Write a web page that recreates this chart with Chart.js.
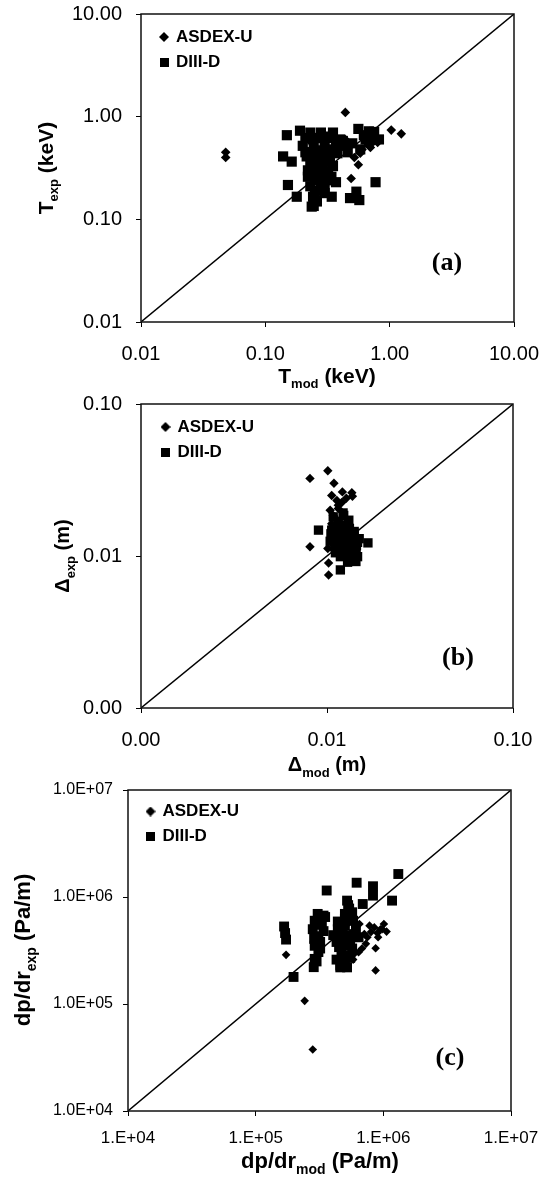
<!DOCTYPE html>
<html><head><meta charset="utf-8">
<script src="https://cdn.jsdelivr.net/npm/chart.js@4.4.0/dist/chart.umd.min.js"></script>
<style>
html,body{margin:0;padding:0;background:#fff;width:542px;height:1186px;overflow:hidden}
canvas{position:absolute;left:0}
</style></head><body>
<canvas id="ca" width="542" height="390" style="top:0px"></canvas>
<canvas id="cb" width="542" height="390" style="top:390px"></canvas>
<canvas id="cc" width="542" height="411" style="top:775px"></canvas>
<script>
// ---------- DATA ----------
const seriesNames = ['ASDEX-U', 'DIII-D'];

// Panel (a): T_mod vs T_exp (keV)
const aTicks = [0.01, 0.1, 1, 10];
const aTickLabels = ['0.01', '0.10', '1.00', '10.00'];
const aAsdexX = [0.048, 0.048, 0.44, 1.03, 1.24, 0.80, 0.49, 0.56, 0.44, 0.47, 0.60, 0.66, 0.52, 0.75, 0.38, 0.35, 0.70, 0.58];
const aAsdexY = [0.45, 0.40, 1.10, 0.74, 0.68, 0.56, 0.25, 0.34, 0.60, 0.52, 0.48, 0.62, 0.40, 0.58, 0.55, 0.62, 0.50, 0.44];
const aDiiidX = [0.149, 0.19, 0.139, 0.163, 0.152, 0.179, 0.236, 0.242, 0.342, 0.48, 0.54, 0.57, 0.77, 0.37, 0.56, 0.68, 0.75, 0.82, 0.64, 0.23,
                 0.28, 0.35, 0.20, 0.245, 0.30, 0.37, 0.215, 0.27, 0.33, 0.23, 0.29, 0.35, 0.22, 0.28, 0.34, 0.23, 0.29, 0.25, 0.30, 0.245,
                 0.32, 0.40, 0.43, 0.46, 0.58, 0.68, 0.26, 0.31, 0.21, 0.26,
                 0.21, 0.24, 0.27, 0.31, 0.34, 0.22, 0.25, 0.28, 0.32, 0.36, 0.24, 0.27, 0.30, 0.33, 0.26, 0.29, 0.32, 0.25, 0.28, 0.31,
                 0.27, 0.30, 0.22, 0.26, 0.38, 0.42, 0.50, 0.62, 0.72];
const aDiiidY = [0.66, 0.73, 0.41, 0.365, 0.216, 0.166, 0.133, 0.166, 0.166, 0.161, 0.186, 0.154, 0.23, 0.23, 0.76, 0.72, 0.71, 0.60, 0.60, 0.70,
                 0.70, 0.70, 0.52, 0.52, 0.52, 0.52, 0.41, 0.41, 0.41, 0.33, 0.33, 0.33, 0.26, 0.26, 0.26, 0.21, 0.21, 0.17, 0.18, 0.135,
                 0.48, 0.60, 0.52, 0.45, 0.48, 0.56, 0.62, 0.28, 0.45, 0.15,
                 0.62, 0.60, 0.62, 0.64, 0.62, 0.45, 0.46, 0.47, 0.44, 0.46, 0.37, 0.36, 0.38, 0.37, 0.29, 0.30, 0.29, 0.24, 0.23, 0.24,
                 0.19, 0.20, 0.30, 0.15, 0.44, 0.58, 0.55, 0.66, 0.63];

// Panel (b): Delta_mod vs Delta_exp (m)
const bTicks = [0.001, 0.01, 0.1];
const bTickLabels = ['0.00', '0.01', '0.10'];
const bAsdexX = [0.0081, 0.0101, 0.0109, 0.0121, 0.0136, 0.0137, 0.0106, 0.0113, 0.0081, 0.0102, 0.0102, 0.0101, 0.0104, 0.0106, 0.0115, 0.0110, 0.0125,
                 0.0108, 0.0115, 0.0120, 0.0127, 0.0112];
const bAsdexY = [0.0324, 0.0364, 0.0301, 0.0264, 0.0261, 0.0247, 0.0250, 0.0232, 0.0115, 0.0090, 0.0075, 0.0112, 0.0200, 0.0163, 0.0216, 0.0130, 0.0120,
                 0.0185, 0.0205, 0.0225, 0.0240, 0.0175];
const bDiiidX = [0.0090, 0.0166, 0.0118, 0.0143, 0.0108, 0.0123, 0.0131, 0.0113, 0.0126, 0.0140, 0.0108, 0.0121, 0.0137, 0.0149, 0.0110, 0.0126,
                 0.0143, 0.0118, 0.0134, 0.0146, 0.0129, 0.0106, 0.0115, 0.0120, 0.0135,
                 0.0104, 0.0112, 0.0120, 0.0128, 0.0136, 0.0144, 0.0105, 0.0113, 0.0122, 0.0130, 0.0138, 0.0146, 0.0108, 0.0116, 0.0124, 0.0132,
                 0.0140, 0.0111, 0.0119, 0.0127, 0.0135, 0.0143, 0.0122, 0.0130];
const bDiiidY = [0.0148, 0.0122, 0.0081, 0.0092, 0.0181, 0.0185, 0.0172, 0.0155, 0.0148, 0.0141, 0.0134, 0.0127, 0.0124, 0.0130, 0.0115, 0.0109,
                 0.0107, 0.0099, 0.0099, 0.0099, 0.0091, 0.0148, 0.0168, 0.0160, 0.0115,
                 0.0125, 0.0120, 0.0118, 0.0121, 0.0119, 0.0117, 0.0140, 0.0138, 0.0136, 0.0133, 0.0131, 0.0123, 0.0155, 0.0150, 0.0145, 0.0152,
                 0.0145, 0.0105, 0.0104, 0.0102, 0.0105, 0.0110, 0.0192, 0.0165];

// Panel (c): dp/dr_mod vs dp/dr_exp (Pa/m)
const cTicks = [1e4, 1e5, 1e6, 1e7];
const cXTickLabels = ['1.E+04', '1.E+05', '1.E+06', '1.E+07'];
const cYTickLabels = ['1.0E+04', '1.0E+05', '1.0E+06', '1.0E+07'];
const cAsdexX = [2.8e5, 2.42e5, 1.73e5, 8.7e5, 8.7e5, 1.06e6, 1.01e6, 9.1e5, 7.8e5, 7.1e5, 7.3e5, 6.4e5, 5.2e5, 6.5e5, 9.5e5, 8.0e5, 5.8e5,
                 7.5e5, 8.5e5, 9.8e5, 6.8e5, 9.0e5, 6.0e5];
const cAsdexY = [3.76e4, 1.07e5, 2.88e5, 2.06e5, 3.32e5, 4.75e5, 5.6e5, 4.2e5, 5.4e5, 4.5e5, 3.65e5, 3.05e5, 2.38e5, 5.6e5, 5.0e5, 4.7e5, 2.6e5,
                 4.2e5, 5.2e5, 5.0e5, 3.3e5, 4.6e5, 3.0e5];
const cDiiidX = [1.31e6, 6.18e5, 3.6e5, 8.3e5, 8.3e5, 1.17e6, 5.2e5, 6.9e5, 1.67e5, 1.73e5, 1.98e5, 2.85e5, 2.9e5, 3.06e5, 3.4e5, 2.8e5,
                 2.87e5, 3.2e5, 4.05e5, 4.3e5, 4.6e5, 5.3e5, 5.0e5, 5.6e5, 5.0e5, 6.1e5, 5.5e5, 4.7e5, 6.4e5, 3.1e5, 1.70e5,
                 2.9e5, 3.2e5, 3.5e5, 2.95e5, 3.3e5, 2.9e5, 3.1e5, 3.4e5, 3.0e5, 3.2e5,
                 4.4e5, 4.8e5, 5.4e5, 5.9e5, 4.5e5, 5.1e5, 5.7e5, 4.3e5, 4.9e5, 5.5e5, 4.6e5, 5.2e5, 5.8e5, 4.4e5, 5.0e5, 5.4e5, 5.3e5, 5.7e5, 4.7e5];
const cDiiidY = [1.64e6, 1.36e6, 1.15e6, 1.26e6, 1.03e6, 9.25e5, 9.25e5, 8.6e5, 5.3e5, 4.0e5, 1.79e5, 2.21e5, 2.64e5, 6.95e5, 6.7e5, 5.0e5,
                 4.06e5, 3.8e5, 4.4e5, 3.8e5, 2.29e5, 2.84e5, 5.4e5, 6.7e5, 6.95e5, 5.0e5, 3.8e5, 3.06e5, 4.2e5, 3.06e5, 4.6e5,
                 6.0e5, 6.3e5, 6.5e5, 5.5e5, 5.8e5, 3.5e5, 4.3e5, 4.8e5, 2.5e5, 3.3e5,
                 5.0e5, 4.6e5, 4.4e5, 4.5e5, 3.4e5, 3.5e5, 3.3e5, 2.6e5, 2.5e5, 2.7e5, 2.2e5, 2.2e5, 6.0e5, 5.9e5, 6.3e5, 7.8e5, 8.4e5, 7.2e5, 4.0e5];

// ---------- RENDERING ----------
const SANS = '"Liberation Sans", Arial, Helvetica, sans-serif';
const SERIF = '"Liberation Serif", "Times New Roman", serif';
Chart.defaults.color = '#000';
Chart.defaults.font.family = SANS;

function pts(xs, ys) { return xs.map((x, i) => ({x: x, y: ys[i]})); }

function markerCanvas(kind, s) {
  const c = document.createElement('canvas');
  c.width = s; c.height = s;
  const g = c.getContext('2d');
  g.fillStyle = '#000';
  g.beginPath();
  if (kind === 'd') { g.moveTo(s / 2, 0); g.lineTo(s, s / 2); g.lineTo(s / 2, s); g.lineTo(0, s / 2); g.closePath(); }
  else { g.rect(0, 0, s, s); }
  g.fill();
  return c;
}
const legDiamond = markerCanvas('d', 10);
const legSquare = markerCanvas('s', 9);

function drawSubText(ctx, parts, cx, cy, size, rotate) {
  ctx.save();
  ctx.translate(cx, cy);
  if (rotate) ctx.rotate(-Math.PI / 2);
  const mainF = 'bold ' + size + 'px ' + SANS;
  const subSize = Math.round(size * 0.63);
  const subF = 'bold ' + subSize + 'px ' + SANS;
  const widths = parts.map(p => { ctx.font = p[1] ? subF : mainF; return ctx.measureText(p[0]).width; });
  const total = widths.reduce((a, b) => a + b, 0);
  let x = -total / 2;
  const capH = size * 0.716;
  ctx.fillStyle = '#000';
  ctx.textAlign = 'left';
  ctx.textBaseline = 'alphabetic';
  parts.forEach((p, i) => {
    ctx.font = p[1] ? subF : mainF;
    ctx.fillText(p[0], x, capH / 2 + (p[1] ? size * 0.28 : 0));
    x += widths[i];
  });
  ctx.restore();
}

const decorPlugin = {
  id: 'decor',
  afterLayout(chart, args, o) {
    const lg = chart.legend, a = chart.chartArea;
    if (lg) {
      const w = lg.width, h = lg.height;
      lg.left = a.left + o.legendDx; lg.right = lg.left + w;
      lg.top = a.top + o.legendDy; lg.bottom = lg.top + h;
    }
  },
  afterDraw(chart, args, o) {
    const ctx = chart.ctx, a = chart.chartArea;
    ctx.save();
    ctx.strokeStyle = '#111';
    ctx.lineWidth = 1.5;
    ctx.strokeRect(a.left, a.top, a.right - a.left, a.bottom - a.top);
    ctx.restore();
    drawSubText(ctx, o.xTitle, o.xTitlePos[0], o.xTitlePos[1], o.xTitleSize, false);
    drawSubText(ctx, o.yTitle, o.yTitlePos[0], o.yTitlePos[1], o.yTitleSize, true);
    ctx.save();
    ctx.font = 'bold ' + o.tagSize + 'px ' + SERIF;
    ctx.fillStyle = '#000';
    ctx.textAlign = 'center';
    ctx.textBaseline = 'middle';
    ctx.fillText(o.tag, o.tagPos[0], o.tagPos[1]);
    ctx.restore();
  }
};

function zeroPad(s) { s.paddingTop = 0; s.paddingBottom = 0; s.paddingLeft = 0; s.paddingRight = 0; }

function makePanel(id, p) {
  const axisBase = (ticks, labels, fontSize, pad) => ({
    type: 'logarithmic',
    min: ticks[0],
    max: ticks[ticks.length - 1],
    afterBuildTicks: (s) => { s.ticks = ticks.map(v => ({value: v})); },
    ticks: {
      autoSkip: false, maxRotation: 0, minRotation: 0, padding: pad,
      font: {size: fontSize, family: SANS},
      color: '#000',
      callback: (v, i) => labels[i]
    },
    grid: {display: true, drawOnChartArea: false, drawTicks: true, tickLength: 5, color: '#000', lineWidth: 1},
    border: {display: false}
  });
  const xs = axisBase(p.ticks, p.xLabels, p.xFont, p.xPad);
  xs.position = 'bottom';
  xs.afterFit = (s) => { s.height = p.xHeight; zeroPad(s); };
  const ys = axisBase(p.ticks, p.yLabels, p.yFont, p.yPad);
  ys.position = 'left';
  ys.afterFit = (s) => { s.width = p.yWidth; zeroPad(s); };

  return new Chart(document.getElementById(id), {
    type: 'scatter',
    data: {
      datasets: [
        {label: seriesNames[0], data: pts(p.asdexX, p.asdexY), pointStyle: 'rectRot', pointRadius: p.dR, pointHoverRadius: p.dR,
         backgroundColor: '#000', borderColor: '#000', borderWidth: 0},
        {label: seriesNames[1], data: pts(p.diiidX, p.diiidY), pointStyle: 'rect', pointRadius: p.sR, pointHoverRadius: p.sR,
         backgroundColor: '#000', borderColor: '#000', borderWidth: 0},
        {label: 'y = x', data: [{x: p.ticks[0], y: p.ticks[0]}, {x: p.ticks[p.ticks.length - 1], y: p.ticks[p.ticks.length - 1]}],
         showLine: true, pointRadius: 0, borderColor: '#000', borderWidth: 1.4, fill: false}
      ]
    },
    options: {
      responsive: false,
      animation: false,
      devicePixelRatio: 1,
      layout: {padding: {left: 0, top: p.padTop, right: p.padRight, bottom: 0}},
      scales: {x: xs, y: ys},
      plugins: {
        tooltip: {enabled: false},
        legend: {
          position: 'chartArea',
          align: 'start',
          labels: {
            usePointStyle: true, boxWidth: 7, boxHeight: 7, padding: 8, color: '#000',
            font: {size: 17, weight: 'bold', family: SANS},
            filter: (item) => item.datasetIndex < 2,
            generateLabels: (chart) => {
              const items = Chart.defaults.plugins.legend.labels.generateLabels(chart);
              return items.map(it => Object.assign(it, {pointStyle: it.datasetIndex === 0 ? legDiamond : legSquare, fontColor: '#000'}));
            }
          }
        },
        decor: {
          legendDx: p.legDx, legendDy: p.legDy,
          xTitle: p.xTitle, xTitlePos: p.xTitlePos, xTitleSize: p.xTitleSize,
          yTitle: p.yTitle, yTitlePos: p.yTitlePos, yTitleSize: p.yTitleSize,
          tag: p.tag, tagPos: p.tagPos, tagSize: 26
        }
      }
    },
    plugins: [decorPlugin]
  });
}

makePanel('ca', {
  ticks: aTicks, xLabels: aTickLabels, yLabels: aTickLabels,
  asdexX: aAsdexX, asdexY: aAsdexY, diiidX: aDiiidX, diiidY: aDiiidY,
  dR: 4.8, sR: 7.2,
  xFont: 20, yFont: 20, xPad: 15, yPad: 14,
  xHeight: 68, yWidth: 141, padTop: 14, padRight: 28,
  legDx: 11.5, legDy: 6.5,
  xTitle: [['T', 0], ['mod', 1], [' (keV)', 0]], xTitlePos: [327, 375], xTitleSize: 21,
  yTitle: [['T', 0], ['exp', 1], [' (keV)', 0]], yTitlePos: [45, 168], yTitleSize: 21,
  tag: '(a)', tagPos: [447, 263]
});
makePanel('cb', {
  ticks: bTicks, xLabels: bTickLabels, yLabels: bTickLabels,
  asdexX: bAsdexX, asdexY: bAsdexY, diiidX: bDiiidX, diiidY: bDiiidY,
  dR: 4.7, sR: 6.6,
  xFont: 20, yFont: 20, xPad: 15, yPad: 14,
  xHeight: 72, yWidth: 141, padTop: 14, padRight: 29,
  legDx: 13, legDy: 6.5,
  xTitle: [['\u0394', 0], ['mod', 1], [' (m)', 0]], xTitlePos: [327, 374], xTitleSize: 20,
  yTitle: [['\u0394', 0], ['exp', 1], [' (m)', 0]], yTitlePos: [62, 166], yTitleSize: 20,
  tag: '(b)', tagPos: [458, 268]
});
makePanel('cc', {
  ticks: cTicks, xLabels: cXTickLabels, yLabels: cYTickLabels,
  asdexX: cAsdexX, asdexY: cAsdexY, diiidX: cDiiidX, diiidY: cDiiidY,
  dR: 4.3, sR: 7.0,
  xFont: 17, yFont: 16, xPad: 12, yPad: 10,
  xHeight: 75, yWidth: 128, padTop: 15, padRight: 31,
  legDx: 11, legDy: 5,
  xTitle: [['dp/dr', 0], ['mod', 1], [' (Pa/m)', 0]], xTitlePos: [320, 385], xTitleSize: 22,
  yTitle: [['dp/dr', 0], ['exp', 1], [' (Pa/m)', 0]], yTitlePos: [22, 175], yTitleSize: 22,
  tag: '(c)', tagPos: [450, 283]
});
</script>
</body></html>
